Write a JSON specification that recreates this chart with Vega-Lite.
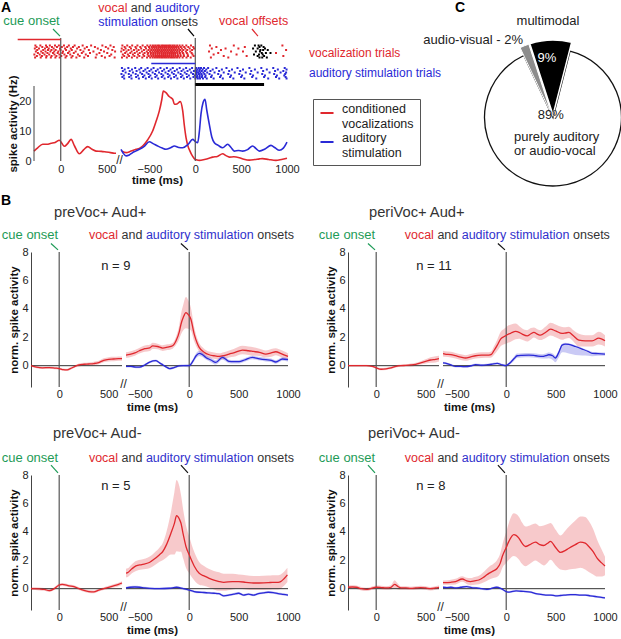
{
"$schema": "https://vega.github.io/schema/vega-lite/v6.json",
"background": "white",
"padding": {"left": 1, "top": 1, "right": 0, "bottom": 0},
"config": {
 "font": "Liberation Sans",
 "view": {"stroke": null},
 "axis": {"grid": false, "ticks": false, "tickSize": 0, "labelFontSize": 11, "labelColor": "#222", "titleFontSize": 11.5, "titleFontWeight": "bold", "titleColor": "#111", "domainColor": "#444", "labelOverlap": false, "labelSeparation": 0},
 "axisX": {"domain": false, "labelFlush": false, "labelPadding": 1, "titlePadding": 3},
 "axisY": {"domain": true, "labelPadding": 3, "titlePadding": 2.5, "labelOverlap": false}
},
"datasets": {
 "ps": [
  {"g":"L","s":"conditioned vocalizations","t":[-290,-250,-196,-150,-105,-60,-15,10,39,75,112,150,202,250,293,340,383,440,492,540,582,600],"m":[3.3,4.4,5.6,5.6,5.9,6.2,6.9,6.0,4.9,5.8,7.2,5.0,2.4,3.8,4.8,3.9,3.3,3.2,3.0,2.8,2.6,2.6]},
  {"g":"R","s":"conditioned vocalizations","t":[-800,-755,-700,-646,-610,-574,-520,-465,-430,-392,-365,-349,-320,-285,-246,-228,-200,-164,-137,-120,-101,-80,-58,-30,-11,20,44,100,150,189,240,298,335,371,420,480,530,589,650,700,734,800,879,940,1000],"m":[3.3,2.8,3.3,3.9,4.2,5.0,7.0,10,13,16.7,20.5,23.3,22.8,21.5,20.6,18.9,19.0,19.8,16.7,12,7.8,5.0,3.3,1.6,0.8,0.3,0.2,0.5,0.9,1.3,1.5,2.4,1.8,1.3,1.4,1.1,0.6,0.3,0.5,0.7,0.8,0.5,0.2,0.5,0.9]},
  {"g":"R","s":"auditory stimulation","t":[-810,-785,-755,-720,-683,-650,-610,-560,-501,-460,-410,-360,-320,-270,-228,-180,-137,-80,-28,0,26,45,62,85,106,125,153,180,208,250,298,353,390,425,470,516,570,625,660,698,760,825,870,916,960,1000],"m":[3.9,2.6,1.7,2.0,2.8,3.3,3.9,4.8,6.4,5.8,5.0,4.3,3.9,4.4,5.0,4.5,4.4,5.5,7.2,6.5,6.1,10,15.6,19.5,20.6,17,12.2,8,6.1,5.2,4.4,5.6,4.5,3.3,3.5,3.3,3.8,5.0,4.2,3.3,4.0,5.2,4.4,3.6,4.3,6.3]}
 ],
 "ra": [
  {"g":"L","k":"v","r":5,"t":[-275,-221,-160,-118,-62,-20,35,88,151,238,330,452,540]},
  {"g":"L","k":"v","r":6,"t":[-262,-200,-149,-95,-41,12,70,133,197,284,371,489,575]},
  {"g":"L","k":"v","r":7,"t":[-281,-236,-171,-130,-77,-8,47,109,178,260,402,515]},
  {"g":"L","k":"v","r":8,"t":[-255,-190,-138,-101,-55,-3,58,120,214,305,436,560]},
  {"g":"L","k":"v","r":9,"t":[-270,-212,-165,-112,-70,-26,25,94,162,246,355,470,590]},
  {"g":"L","k":"v","r":10,"t":[-248,-195,-144,-84,-33,18,79,142,229,318,420,505]},
  {"g":"L","k":"v","r":11,"t":[-286,-228,-176,-125,-68,-14,40,103,187,272,390,548]},
  {"g":"L","k":"v","r":12,"t":[-259,-204,-153,-99,-47,6,63,128,205,296,445,530]},
  {"g":"L","k":"v","r":13,"t":[-278,-217,-158,-107,-58,-11,52,116,170,255,380,480,585]},
  {"g":"R","k":"v","r":5,"t":[-795,-742,-688,-631,-574,-523,-489,-462,-438,-415,-396,-371,-352,-330,-309,-287,-268,-245,-224,-198,-171,-140,-98,-47,160,420,950]},
  {"g":"R","k":"v","r":6,"t":[-770,-715,-652,-600,-546,-505,-474,-451,-427,-403,-384,-362,-340,-319,-296,-277,-255,-233,-210,-186,-158,-121,-76,-22,230,540]},
  {"g":"R","k":"v","r":7,"t":[-802,-760,-701,-644,-590,-537,-497,-469,-444,-421,-401,-378,-357,-335,-314,-292,-271,-250,-229,-205,-179,-147,-109,-61,-14,180,330,470]},
  {"g":"R","k":"v","r":8,"t":[-781,-728,-669,-618,-560,-511,-480,-455,-432,-409,-389,-366,-344,-324,-302,-281,-260,-239,-217,-193,-165,-131,-88,-35,280,990]},
  {"g":"R","k":"v","r":9,"t":[-808,-750,-694,-637,-582,-529,-493,-466,-441,-418,-398,-375,-355,-333,-311,-290,-266,-247,-226,-201,-175,-144,-103,-55,150,390,520]},
  {"g":"R","k":"v","r":10,"t":[-765,-709,-660,-606,-553,-515,-484,-458,-435,-412,-392,-369,-347,-327,-305,-284,-263,-242,-220,-196,-168,-135,-92,-40,250,880]},
  {"g":"R","k":"v","r":11,"t":[-790,-735,-680,-625,-568,-519,-486,-460,-436,-413,-391,-368,-349,-328,-306,-283,-262,-241,-219,-191,-162,-127,-83,-30,200,450]},
  {"g":"R","k":"v","r":12,"t":[-775,-722,-664,-610,-557,-508,-477,-453,-429,-406,-386,-364,-342,-321,-299,-279,-257,-236,-213,-189,-160,-124,-80,-18,310,560,960]},
  {"g":"R","k":"v","r":13,"t":[-799,-746,-691,-634,-578,-526,-491,-464,-440,-417,-395,-373,-353,-331,-310,-288,-265,-244,-223,-199,-173,-138,-96,-50,170,360]},
  {"g":"R","k":"o","r":5,"t":[650,690,720]},
  {"g":"R","k":"o","r":6,"t":[700,745]},
  {"g":"R","k":"o","r":7,"t":[630,680,760]},
  {"g":"R","k":"o","r":8,"t":[710,740,790]},
  {"g":"R","k":"o","r":9,"t":[660,705]},
  {"g":"R","k":"o","r":10,"t":[725,770,820]},
  {"g":"R","k":"o","r":11,"t":[640,695,735]},
  {"g":"R","k":"o","r":12,"t":[680,750]},
  {"g":"R","k":"o","r":13,"t":[700,730,780]},
  {"g":"R","k":"a","r":20,"t":[-800,-730,-655,-590,-520,-455,-380,-310,-245,-170,-100,-35,10,38,62,95,140,230,340,460,590,720,850,975]},
  {"g":"R","k":"a","r":21,"t":[-770,-690,-610,-545,-480,-410,-340,-270,-200,-130,-60,5,25,50,80,120,190,290,400,520,650,780,900,995]},
  {"g":"R","k":"a","r":22,"t":[-790,-715,-640,-565,-500,-430,-360,-290,-225,-150,-85,-15,15,44,70,105,165,260,370,490,610,740,870,960]},
  {"g":"R","k":"a","r":23,"t":[-760,-680,-600,-530,-465,-395,-325,-255,-185,-115,-45,8,30,55,88,130,210,310,430,550,680,810,930,990]},
  {"g":"R","k":"a","r":24,"t":[-805,-725,-650,-580,-510,-440,-370,-300,-235,-160,-95,-25,12,40,66,100,155,250,360,480,600,730,860,980]},
  {"g":"R","k":"a","r":25,"t":[-780,-700,-625,-555,-490,-420,-350,-280,-210,-140,-70,-5,20,48,75,112,180,280,390,510,630,760,890,970]},
  {"g":"R","k":"a","r":26,"t":[-795,-720,-645,-570,-505,-435,-365,-295,-230,-155,-90,-20,18,46,72,108,172,270,380,500,620,750,880,985]},
  {"g":"R","k":"a","r":27,"t":[-775,-695,-615,-540,-475,-405,-335,-265,-195,-125,-55,2,28,52,84,125,200,300,415,535,665,795,915,995]}
 ],
 "pie": [
  {"cat":"audio-visual","v":2,"o":1},
  {"cat":"multimodal","v":9,"o":2},
  {"cat":"purely auditory or audio-vocal","v":89,"o":3}
 ],
 "b": [
  {"p":1,"g":"L","s":"v","t":[-285,-230,-170,-100,-40,0,40,80,120,160,200,250,300,350,400,450,500,550,600,635],"m":[0,-0.1,-0.15,-0.13,-0.17,-0.2,-0.28,-0.3,-0.18,-0.05,0.05,0.1,0.12,0.15,0.22,0.38,0.45,0.47,0.5,0.5],"u":[0.08,0.08,0.08,0.08,0.08,0.08,0.08,0.08,0.08,0.08,0.1,0.1,0.1,0.12,0.12,0.14,0.15,0.15,0.15,0.15]},
  {"p":1,"g":"R","s":"v","t":[-640,-600,-550,-505,-450,-400,-370,-320,-269,-220,-168,-130,-100,-84,-60,-33,-10,17,51,80,101,150,202,250,303,350,404,450,539,600,650,711,775,830,876,930,1000],"m":[0.75,0.8,0.9,1.05,1.2,1.25,1.4,1.35,1.24,1.3,1.4,1.8,2.4,2.9,3.4,3.74,3.6,3.27,2.2,1.6,1.29,0.95,0.77,0.7,0.65,0.7,0.82,0.9,1.1,1.05,1.0,0.94,0.82,0.9,0.98,0.85,0.65],"u":[0.2,0.2,0.2,0.2,0.22,0.22,0.22,0.2,0.2,0.2,0.2,0.3,0.5,0.7,0.9,1.1,1.0,0.8,0.5,0.35,0.3,0.25,0.22,0.22,0.22,0.25,0.25,0.28,0.3,0.3,0.3,0.25,0.25,0.28,0.25,0.25,0.22]},
  {"p":1,"g":"R","s":"a","t":[-640,-590,-540,-505,-450,-400,-340,-300,-269,-230,-200,-160,-100,-60,0,40,70,101,130,168,220,270,336,370,404,450,505,560,640,700,775,830,876,944,1000],"m":[-0.05,-0.05,-0.1,-0.1,0.05,0.25,0.35,0.2,0.07,-0.1,-0.2,-0.15,-0.02,0,0,0.35,0.7,0.87,0.8,0.58,0.4,0.23,0.58,0.45,0.3,0.28,0.28,0.4,0.58,0.5,0.42,0.38,0.26,0.47,0.42],"u":[0.08,0.08,0.08,0.08,0.08,0.08,0.08,0.08,0.08,0.08,0.08,0.08,0.08,0.08,0.12,0.15,0.18,0.18,0.18,0.15,0.15,0.15,0.15,0.15,0.12,0.12,0.12,0.12,0.12,0.12,0.12,0.12,0.12,0.12,0.12]},
  {"p":2,"g":"L","s":"v","t":[-285,-200,-100,-40,0,50,100,150,200,250,300,350,400,450,500,550,600,635],"m":[0,0,0,-0.05,-0.15,-0.25,-0.22,-0.15,-0.05,0,0.02,0.05,0.1,0.2,0.3,0.4,0.45,0.5],"u":[0.06,0.06,0.06,0.06,0.08,0.08,0.08,0.08,0.08,0.08,0.08,0.1,0.1,0.12,0.15,0.2,0.22,0.2]},
  {"p":2,"g":"R","s":"v","t":[-640,-620,-560,-513,-460,-412,-360,-311,-250,-176,-150,-125,-90,-57,-20,10,50,94,130,162,212,250,280,320,347,400,448,500,566,600,634,680,735,800,870,937,1000],"m":[0.85,0.82,0.78,0.7,0.6,0.54,0.62,0.7,0.74,0.75,0.8,1.05,1.45,1.87,2.05,2.18,2.3,2.41,2.35,2.22,2.1,2.25,2.34,2.2,2.15,2.35,2.57,2.45,2.27,2.3,2.34,2.1,1.8,1.75,1.75,1.94,1.75],"u":[0.2,0.2,0.2,0.2,0.2,0.2,0.2,0.2,0.2,0.2,0.22,0.3,0.4,0.5,0.55,0.6,0.6,0.55,0.45,0.4,0.4,0.4,0.35,0.35,0.35,0.4,0.45,0.45,0.45,0.4,0.4,0.4,0.45,0.4,0.4,0.45,0.4]},
  {"p":2,"g":"R","s":"a","t":[-640,-600,-560,-513,-460,-412,-360,-311,-250,-200,-150,-91,-40,-6,44,80,111,160,229,300,364,400,431,470,498,530,566,600,634,700,769,830,870,930,1000],"m":[0.2,0.15,0.05,-0.05,-0.05,-0.07,-0.02,0.07,0.03,0.05,0.1,0.16,0.05,0,0.23,0.5,0.7,0.73,0.75,0.7,0.65,0.7,0.77,0.7,0.54,0.9,1.45,1.52,1.5,1.35,1.17,1.0,0.87,0.85,0.82],"u":[0.08,0.08,0.08,0.08,0.08,0.08,0.08,0.08,0.08,0.08,0.08,0.08,0.08,0.08,0.12,0.15,0.15,0.15,0.15,0.15,0.15,0.15,0.15,0.15,0.15,0.15,0.1,0.1,0.08,0.08,0.08,0.08,0.1,0.1,0.1],"l":[-0.08,-0.08,-0.08,-0.08,-0.08,-0.08,-0.08,-0.08,-0.08,-0.08,-0.08,-0.08,-0.08,-0.08,-0.12,-0.15,-0.15,-0.15,-0.15,-0.15,-0.15,-0.2,-0.25,-0.3,-0.3,-0.35,-0.5,-0.6,-0.65,-0.6,-0.45,-0.3,-0.2,-0.15,-0.12]},
  {"p":3,"g":"L","s":"v","t":[-285,-200,-150,-100,-50,0,30,100,150,200,250,300,350,400,450,500,550,600,635],"m":[0,-0.02,-0.05,-0.14,0,0.26,0.3,0.2,0.15,0,-0.12,-0.2,-0.22,-0.1,0,0.1,0.2,0.3,0.4],"u":[0.1,0.1,0.1,0.1,0.1,0.1,0.1,0.1,0.1,0.1,0.1,0.1,0.1,0.1,0.1,0.1,0.12,0.12,0.12]},
  {"p":3,"g":"R","s":"v","t":[-640,-623,-580,-539,-480,-404,-350,-300,-269,-230,-185,-150,-128,-100,-84,-60,-33,0,50,101,150,202,250,303,350,438,500,573,650,707,800,842,900,926,960,994],"m":[1.1,1.13,1.4,1.6,1.7,1.84,2.1,2.4,2.6,3.1,3.9,4.6,5.14,4.9,4.62,3.8,2.97,2.38,1.6,1.08,0.9,0.73,0.6,0.5,0.45,0.5,0.5,0.45,0.4,0.4,0.42,0.45,0.45,0.5,0.7,0.97],"u":[0.3,0.3,0.32,0.35,0.35,0.4,0.45,0.5,0.6,0.9,1.5,2.2,2.5,2.3,2.0,1.7,1.5,1.3,1.0,0.8,0.7,0.65,0.65,0.65,0.6,0.55,0.5,0.5,0.5,0.5,0.5,0.5,0.5,0.5,0.5,0.5]},
  {"p":3,"g":"R","s":"a","t":[-640,-600,-550,-500,-450,-400,-300,-200,-128,-60,0,50,100,150,200,250,300,350,400,450,500,550,600,650,700,750,800,850,900,950,1000],"m":[0.05,0.1,0.12,0.1,0.05,0.02,0,0.03,0.1,0,-0.1,-0.2,-0.25,-0.27,-0.3,-0.32,-0.35,-0.5,-0.45,-0.38,-0.32,-0.45,-0.38,-0.45,-0.35,-0.3,-0.25,-0.28,-0.35,-0.4,-0.45],"u":[0.08,0.08,0.08,0.08,0.08,0.08,0.08,0.08,0.08,0.08,0.08,0.08,0.08,0.08,0.08,0.08,0.08,0.08,0.08,0.08,0.08,0.08,0.08,0.08,0.08,0.08,0.08,0.08,0.08,0.08,0.08]},
  {"p":4,"g":"L","s":"v","t":[-285,-240,-200,-150,-100,-50,0,50,100,150,186,220,250,300,350,400,450,500,550,600,635],"m":[0.1,0.12,0.1,0,-0.05,0.02,0.1,0.08,0.05,0.1,0.3,0.15,0.05,0.05,0.02,0.05,0.08,0.05,0,0.05,0.1],"u":[0.12,0.12,0.12,0.12,0.12,0.12,0.12,0.12,0.12,0.15,0.3,0.2,0.12,0.12,0.12,0.12,0.12,0.12,0.12,0.12,0.12]},
  {"p":4,"g":"R","s":"v","t":[-640,-620,-560,-513,-445,-400,-361,-320,-277,-220,-176,-130,-91,-60,-40,0,27,77,100,128,160,195,240,296,340,380,420,448,500,549,600,634,700,751,800,836,880,920,960,1000],"m":[0.42,0.42,0.45,0.5,0.68,0.55,0.5,0.55,0.61,0.85,1.08,1.25,1.44,1.8,2.26,2.9,3.33,3.8,3.75,3.56,3.2,2.97,3.1,3.28,3.1,3.04,3.2,3.33,2.9,2.55,2.7,2.85,3.1,3.28,3.2,2.97,2.6,2.15,1.85,1.6],"u":[0.15,0.15,0.18,0.2,0.2,0.22,0.25,0.28,0.3,0.38,0.45,0.5,0.6,0.7,0.8,1.1,1.3,1.5,1.5,1.5,1.45,1.4,1.35,1.3,1.3,1.4,1.35,1.3,1.25,1.2,1.4,1.5,1.7,1.8,1.85,1.8,1.6,1.3,1.0,0.65]},
  {"p":4,"g":"R","s":"a","t":[-640,-600,-560,-513,-460,-400,-350,-300,-250,-200,-150,-100,-50,0,30,100,150,200,250,300,350,400,450,500,550,600,650,700,750,800,850,900,950,1000],"m":[0.1,0.08,0.1,0.05,0.1,0.15,0.08,0.05,0,-0.05,0.02,0.1,0,-0.2,-0.24,-0.15,-0.18,-0.2,-0.25,-0.35,-0.4,-0.45,-0.45,-0.5,-0.48,-0.45,-0.42,-0.42,-0.45,-0.45,-0.5,-0.55,-0.6,-0.65],"u":[0.07,0.07,0.07,0.07,0.07,0.07,0.07,0.07,0.07,0.07,0.07,0.07,0.07,0.07,0.07,0.07,0.07,0.07,0.07,0.07,0.07,0.07,0.07,0.07,0.07,0.07,0.07,0.07,0.07,0.07,0.07,0.07,0.07,0.07]}
 ]
},
"columns": 5,
"spacing": {"row": 88, "column": 4},
"align": "each",
"bounds": "flush",
"concat": [
 {
  "width": 91, "height": 123,
  "resolve": {"scale": {"y": "independent"}},
  "layer": [
   {"layer": [
    {"data": {"name": "ps"}, "transform": [{"filter": "datum.g == 'L'"}, {"flatten": ["t", "m"]}],
     "mark": {"type": "line", "color": "#e0282e", "strokeWidth": 1.6, "interpolate": "monotone"},
     "encoding": {
      "x": {"field": "t", "type": "quantitative", "scale": {"domain": [-322.6, 665], "nice": false, "zero": false}, "axis": {"values": [0, 500], "format": "d", "title": null, "labelPadding": 2.5, "labelOverlap": false}},
      "y": {"field": "m", "type": "quantitative", "scale": {"domain": [0, 41], "nice": false, "zero": false}, "axis": {"values": [0, 10, 20], "title": "spike activity (Hz)", "domain": false, "labelPadding": 0, "labelOverlap": false, "titleX": -18, "titleY": 85.5, "titleBaseline": "middle"}}}},
    {"data": {"values": [{}]}, "mark": {"type": "rule", "color": "#444", "strokeWidth": 1}, "encoding": {"x": {"datum": -290}, "y": {"datum": 0}, "y2": {"datum": 25}}},
    {"data": {"values": [{}]}, "mark": {"type": "text", "text": "//", "fontSize": 12, "color": "#222", "align": "center", "baseline": "middle", "dx": 2.5, "dy": -1}, "encoding": {"x": {"datum": 611}, "y": {"datum": 0}}}
   ]},
   {"layer": [
    {"data": {"name": "ra"}, "transform": [{"filter": "datum.g == 'L'"}, {"flatten": ["t"]}],
     "mark": {"type": "square", "size": 4, "color": "#e0282e", "opacity": 1},
     "encoding": {"x": {"field": "t", "type": "quantitative"}, "y": {"field": "r", "type": "quantitative", "scale": {"domain": [0, 82], "reverse": true, "nice": false, "zero": false}, "axis": null}}},
    {"data": {"values": [{}]}, "mark": {"type": "rule", "color": "#555", "strokeWidth": 1.2}, "encoding": {"x": {"datum": 0}}},
    {"data": {"values": [{}]}, "mark": {"type": "rule", "color": "#e0282e", "strokeWidth": 1.5}, "encoding": {"x": {"datum": -467}, "x2": {"datum": 0}, "y": {"datum": 1, "axis": null}}},
    {"data": {"values": [{}]}, "mark": {"type": "rule", "color": "#1e9b57", "strokeWidth": 1.2}, "encoding": {"x": {"datum": -84}, "x2": {"datum": -8}, "y": {"datum": -6, "axis": null}, "y2": {"datum": -1.3}}},
    {"data": {"values": [{}]}, "mark": {"type": "text", "text": "cue onset", "align": "right", "baseline": "middle", "dx": -1, "dy": -17, "fontSize": 13, "color": "#1e9b57"}, "encoding": {"x": {"datum": 0}, "y": {"datum": 0, "axis": null}}},
    {"data": {"values": [{}]}, "mark": {"type": "text", "text": "A", "align": "left", "baseline": "middle", "dx": -30, "dy": -30, "fontSize": 14, "fontWeight": "bold", "color": "#000"}, "encoding": {"x": {"datum": -322.6}, "y": {"datum": 0, "axis": null}}}
   ]}
  ]
 },
 {
  "width": 161, "height": 123,
  "resolve": {"scale": {"y": "independent"}},
  "layer": [
   {"layer": [
    {"data": {"name": "ps"}, "transform": [{"filter": "datum.g == 'R'"}, {"flatten": ["t", "m"]}],
     "mark": {"type": "line", "strokeWidth": 1.6, "interpolate": "monotone"},
     "encoding": {
      "x": {"field": "t", "type": "quantitative", "scale": {"domain": [-755.5, 1000], "nice": false, "zero": false}, "axis": {"values": [-500, 0, 500, 1000], "format": "d", "title": "time (ms)", "labelPadding": 2.5, "labelOverlap": false, "titleX": 31, "titleY": 19, "titleBaseline": "middle"}},
      "y": {"field": "m", "type": "quantitative", "scale": {"domain": [0, 41], "nice": false, "zero": false}, "axis": null},
      "color": {"field": "s", "type": "nominal", "scale": {"domain": ["conditioned vocalizations", "auditory stimulation"], "range": ["#e0282e", "#2a2ad6"]},
       "legend": {"orient": "none", "legendX": 282, "legendY": 61, "title": null, "symbolType": "stroke", "symbolSize": 170, "symbolStrokeWidth": 2, "labelFontSize": 12.5, "labelColor": "#222", "labelExpr": "split(datum.label, ' ')", "labelBaseline": "alphabetic", "labelOffset": 7, "labelLimit": 0, "strokeColor": "#555", "fillColor": "#fff", "padding": 6, "rowPadding": 2}}}}
   ]},
   {"layer": [
    {"data": {"name": "ra"}, "transform": [{"filter": "datum.g == 'R' && datum.k == 'v'"}, {"flatten": ["t"]}],
     "mark": {"type": "square", "size": 4, "color": "#e0282e", "opacity": 1},
     "encoding": {"x": {"field": "t", "type": "quantitative"}, "y": {"field": "r", "type": "quantitative", "scale": {"domain": [0, 82], "reverse": true, "nice": false, "zero": false}, "axis": null}}},
    {"data": {"name": "ra"}, "transform": [{"filter": "datum.g == 'R' && datum.k == 'o'"}, {"flatten": ["t"]}],
     "mark": {"type": "square", "size": 4, "color": "#000", "opacity": 1},
     "encoding": {"x": {"field": "t", "type": "quantitative"}, "y": {"field": "r", "type": "quantitative", "axis": null}}},
    {"data": {"name": "ra"}, "transform": [{"filter": "datum.g == 'R' && datum.k == 'a'"}, {"flatten": ["t"]}],
     "mark": {"type": "square", "size": 4, "color": "#2a2ad6", "opacity": 1},
     "encoding": {"x": {"field": "t", "type": "quantitative"}, "y": {"field": "r", "type": "quantitative", "axis": null}}},
    {"data": {"values": [{}]}, "mark": {"type": "rule", "color": "#555", "strokeWidth": 1.2}, "encoding": {"x": {"datum": 0}}},
    {"data": {"values": [{}]}, "mark": {"type": "rule", "color": "#2a2ad6", "strokeWidth": 1.5}, "encoding": {"x": {"datum": -480}, "x2": {"datum": 0}, "y": {"datum": 17, "axis": null}}},
    {"data": {"values": [{}]}, "mark": {"type": "rule", "color": "#000", "strokeWidth": 3}, "encoding": {"x": {"datum": 0}, "x2": {"datum": 750}, "y": {"datum": 31, "axis": null}}},
    {"data": {"values": [{}]}, "mark": {"type": "rule", "color": "#000", "strokeWidth": 1.2}, "encoding": {"x": {"datum": -80}, "x2": {"datum": -14}, "y": {"datum": -6, "axis": null}, "y2": {"datum": -1.3}}},
    {"data": {"values": [{}]}, "mark": {"type": "rule", "color": "#e0282e", "strokeWidth": 1.2}, "encoding": {"x": {"datum": 618}, "x2": {"datum": 683}, "y": {"datum": -6, "axis": null}, "y2": {"datum": -1.3}}},
    {"data": {"values": [{}]}, "mark": {"type": "text", "text": "vocal", "align": "left", "baseline": "middle", "dx": -97, "dy": -30.5, "fontSize": 12.5, "color": "#e0282e"}, "encoding": {"x": {"datum": 0}, "y": {"datum": 0, "axis": null}}},
    {"data": {"values": [{}]}, "mark": {"type": "text", "text": "and", "align": "left", "baseline": "middle", "dx": -64.6, "dy": -30.5, "fontSize": 12.5, "color": "#333"}, "encoding": {"x": {"datum": 0}, "y": {"datum": 0, "axis": null}}},
    {"data": {"values": [{}]}, "mark": {"type": "text", "text": "auditory", "align": "left", "baseline": "middle", "dx": -40.3, "dy": -30.5, "fontSize": 12.5, "color": "#2a2ad6"}, "encoding": {"x": {"datum": 0}, "y": {"datum": 0, "axis": null}}},
    {"data": {"values": [{}]}, "mark": {"type": "text", "text": "stimulation", "align": "left", "baseline": "middle", "dx": -97, "dy": -16, "fontSize": 12.5, "color": "#2a2ad6"}, "encoding": {"x": {"datum": 0}, "y": {"datum": 0, "axis": null}}},
    {"data": {"values": [{}]}, "mark": {"type": "text", "text": "onsets", "align": "left", "baseline": "middle", "dx": -34.1, "dy": -16, "fontSize": 12.5, "color": "#333"}, "encoding": {"x": {"datum": 0}, "y": {"datum": 0, "axis": null}}},
    {"data": {"values": [{}]}, "mark": {"type": "text", "text": "vocal offsets", "align": "left", "baseline": "middle", "dx": 23.7, "dy": -17, "fontSize": 12.5, "color": "#e0282e"}, "encoding": {"x": {"datum": 0}, "y": {"datum": 0, "axis": null}}},
    {"data": {"values": [{}]}, "mark": {"type": "text", "text": "vocalization trials", "align": "left", "baseline": "middle", "dx": 22, "fontSize": 12, "color": "#e0282e"}, "encoding": {"x": {"datum": 1000}, "y": {"datum": 10, "axis": null}}},
    {"data": {"values": [{}]}, "mark": {"type": "text", "text": "auditory stimulation trials", "align": "left", "baseline": "middle", "dx": 22, "fontSize": 12, "color": "#2a2ad6"}, "encoding": {"x": {"datum": 1000}, "y": {"datum": 23.3, "axis": null}}}
   ]}
  ]
 },
 {"width": 52, "height": 1, "data": {"values": [{}]}, "mark": {"type": "text", "text": ""}, "encoding": {}},
 {"width": 91, "height": 1, "data": {"values": [{}]}, "mark": {"type": "text", "text": ""}, "encoding": {}},
 {
  "width": 178.5, "height": 126,
  "layer": [
   {"data": {"name": "pie"}, "transform": [{"stack": "v", "groupby": [], "sort": [{"field": "o", "order": "ascending"}], "as": ["a0", "a1"]}, {"filter": "datum.o == 3"}],
    "mark": {"type": "arc", "outerRadius": 68.5, "fill": "#fff", "stroke": "#111", "strokeWidth": 1.3, "xOffset": 20.75, "yOffset": 16.5},
    "encoding": {"theta": {"field": "a0", "type": "quantitative", "scale": {"domain": [0, 100], "range": [-0.44, 5.8432]}}, "theta2": {"field": "a1"}}},
   {"data": {"name": "pie"}, "transform": [{"stack": "v", "groupby": [], "sort": [{"field": "o", "order": "ascending"}], "as": ["a0", "a1"]}, {"filter": "datum.o == 2"}],
    "mark": {"type": "arc", "outerRadius": 75, "fill": "#000", "stroke": "#fff", "strokeWidth": 1.5, "xOffset": 20.75, "yOffset": 14},
    "encoding": {"theta": {"field": "a0", "type": "quantitative", "scale": {"domain": [0, 100], "range": [-0.44, 5.8432]}}, "theta2": {"field": "a1"}}},
   {"data": {"name": "pie"}, "transform": [{"stack": "v", "groupby": [], "sort": [{"field": "o", "order": "ascending"}], "as": ["a0", "a1"]}, {"filter": "datum.o == 1"}],
    "mark": {"type": "arc", "outerRadius": 75, "fill": "#8c8c8c", "stroke": "#fff", "strokeWidth": 1, "xOffset": 19.75, "yOffset": 14.5},
    "encoding": {"theta": {"field": "a0", "type": "quantitative", "scale": {"domain": [0, 100], "range": [-0.44, 5.8432]}}, "theta2": {"field": "a1"}}},
   {"data": {"values": [{}]}, "mark": {"type": "text", "text": "9%", "radius": 59.8, "theta": -0.1005, "xOffset": 20.75, "yOffset": 16.5, "fontSize": 13, "color": "#fff", "align": "center", "baseline": "middle"}, "encoding": {}},
   {"data": {"values": [{}]}, "mark": {"type": "text", "text": "89%", "radius": 3.4, "theta": -0.74, "xOffset": 20.75, "yOffset": 16.5, "fontSize": 13, "color": "#222", "align": "center", "baseline": "middle"}, "encoding": {}},
   {"data": {"values": [{}]}, "mark": {"type": "text", "text": "purely auditory", "radius": 43.6, "theta": -2.034, "xOffset": 20.75, "yOffset": 16.5, "fontSize": 13, "color": "#222", "align": "left", "baseline": "middle"}, "encoding": {}},
   {"data": {"values": [{}]}, "mark": {"type": "text", "text": "or audio-vocal", "radius": 51.4, "theta": -2.281, "xOffset": 20.75, "yOffset": 16.5, "fontSize": 13, "color": "#222", "align": "left", "baseline": "middle"}, "encoding": {}},
   {"data": {"values": [{}]}, "mark": {"type": "text", "text": "multimodal", "radius": 96.6, "theta": -0.052, "xOffset": 20.75, "yOffset": 16.5, "fontSize": 13, "color": "#222", "align": "center", "baseline": "middle"}, "encoding": {}},
   {"data": {"values": [{}]}, "mark": {"type": "text", "text": "audio-visual - 2%", "radius": 83.1, "theta": -0.369, "xOffset": 20.75, "yOffset": 16.5, "fontSize": 13, "color": "#222", "align": "right", "baseline": "middle"}, "encoding": {}},
   {"data": {"values": [{}]}, "mark": {"type": "text", "text": "C", "radius": 146.6, "theta": -0.732, "xOffset": 20.75, "yOffset": 16.5, "fontSize": 14, "fontWeight": "bold", "color": "#000", "align": "left", "baseline": "middle"}, "encoding": {}}
  ]
 },
 {
  "width": 91, "height": 135,
  "layer": [
   {"data": {"name": "b"}, "transform": [{"filter": "datum.p == 1 && datum.g == 'L'"}, {"flatten": ["t", "m", "u"]}],
    "mark": {"type": "errorband", "color": "#e0282e", "band": {"opacity": 0.25}, "interpolate": "monotone"},
    "encoding": {
     "x": {"field": "t", "type": "quantitative", "title": null, "scale": {"domain": [-285, 635], "nice": false, "zero": false}},
     "y": {"field": "m", "type": "quantitative", "title": "norm. spike activity", "scale": {"domain": [-1.5, 8], "nice": false, "zero": false}},
     "yError": {"field": "u"}}},
   {"data": {"values": [{}]}, "mark": {"type": "rule", "color": "#333", "strokeWidth": 1}, "encoding": {"y": {"datum": 0}}},
   {"data": {"values": [{}]}, "mark": {"type": "rule", "color": "#555", "strokeWidth": 1.2}, "encoding": {"x": {"datum": 0}}},
   {"data": {"name": "b"}, "transform": [{"filter": "datum.p == 1 && datum.g == 'L'"}, {"flatten": ["t", "m"]}],
    "mark": {"type": "line", "color": "#e0282e", "strokeWidth": 1.3, "interpolate": "monotone"},
    "encoding": {"x": {"field": "t", "type": "quantitative", "axis": {"values": [0, 500], "format": "d", "labelOverlap": false}}, "y": {"field": "m", "type": "quantitative", "axis": {"tickCount": 5, "labelOverlap": false}}}},
   {"data": {"values": [{}]}, "mark": {"type": "rule", "color": "#1e9b57", "strokeWidth": 1.2}, "encoding": {"x": {"datum": -83}, "x2": {"datum": -12}, "y": {"datum": 8.6}, "y2": {"datum": 8.15}}},
   {"data": {"values": [{}]}, "mark": {"type": "text", "text": "cue onset", "align": "right", "baseline": "middle", "dx": -1, "dy": -17, "fontSize": 13, "color": "#1e9b57"}, "encoding": {"x": {"datum": 0}, "y": {"datum": 8}}},
   {"data": {"values": [{}]}, "mark": {"type": "text", "text": "n = 9", "align": "left", "baseline": "middle", "dx": 42, "dy": 14, "fontSize": 13, "color": "#222"}, "encoding": {"x": {"datum": 0}, "y": {"datum": 8}}},
   {"data": {"values": [{}]}, "mark": {"type": "text", "text": "preVoc+ Aud+", "align": "left", "baseline": "middle", "dx": 23, "dy": -39, "fontSize": 14.7, "color": "#333"}, "encoding": {"x": {"datum": -285}, "y": {"datum": 8}}},
   {"data": {"values": [{}]}, "mark": {"type": "text", "text": "B", "align": "left", "baseline": "middle", "dx": -30, "dy": -51, "fontSize": 14, "fontWeight": "bold", "color": "#000"}, "encoding": {"x": {"datum": -285}, "y": {"datum": 8}}},
   {"data": {"values": [{}]}, "mark": {"type": "text", "text": "//", "align": "center", "baseline": "middle", "dx": 1.5, "dy": -3.5, "fontSize": 12, "color": "#222"}, "encoding": {"x": {"datum": 635}, "y": {"datum": -1.5}}}
  ]
 },
 {
  "width": 162, "height": 135,
  "layer": [
   {"data": {"name": "b"}, "transform": [{"filter": "datum.p == 1 && datum.g == 'R' && datum.s == 'v'"}, {"flatten": ["t", "m", "u"]}],
    "mark": {"type": "errorband", "color": "#e0282e", "band": {"opacity": 0.25}, "interpolate": "monotone"},
    "encoding": {
     "x": {"field": "t", "type": "quantitative", "scale": {"domain": [-640, 1000], "nice": false, "zero": false}, "axis": {"values": [-500, 0, 500, 1000], "format": "d", "labelOverlap": false, "title": "time (ms)", "titleX": 26, "titleY": 20.6, "titleBaseline": "middle"}},
     "y": {"field": "m", "type": "quantitative", "scale": {"domain": [-1.5, 8], "nice": false, "zero": false}, "axis": null},
     "yError": {"field": "u"}}},
   {"data": {"name": "b"}, "transform": [{"filter": "datum.p == 1 && datum.g == 'R' && datum.s == 'a'"}, {"flatten": ["t", "m", "u"]}],
    "mark": {"type": "errorband", "color": "#2a2ad6", "band": {"opacity": 0.25}, "interpolate": "monotone"},
    "encoding": {"x": {"field": "t", "type": "quantitative"}, "y": {"field": "m", "type": "quantitative", "axis": null}, "yError": {"field": "u"}}},
   {"data": {"values": [{}]}, "mark": {"type": "rule", "color": "#333", "strokeWidth": 1}, "encoding": {"y": {"datum": 0, "axis": null}}},
   {"data": {"values": [{}]}, "mark": {"type": "rule", "color": "#555", "strokeWidth": 1.2}, "encoding": {"x": {"datum": 0}}},
   {"data": {"name": "b"}, "transform": [{"filter": "datum.p == 1 && datum.g == 'R' && datum.s == 'v'"}, {"flatten": ["t", "m"]}],
    "mark": {"type": "line", "color": "#e0282e", "strokeWidth": 1.3, "interpolate": "monotone"},
    "encoding": {"x": {"field": "t", "type": "quantitative"}, "y": {"field": "m", "type": "quantitative", "axis": null}}},
   {"data": {"name": "b"}, "transform": [{"filter": "datum.p == 1 && datum.g == 'R' && datum.s == 'a'"}, {"flatten": ["t", "m"]}],
    "mark": {"type": "line", "color": "#2a2ad6", "strokeWidth": 1.3, "interpolate": "monotone"},
    "encoding": {"x": {"field": "t", "type": "quantitative"}, "y": {"field": "m", "type": "quantitative", "axis": null}}},
   {"data": {"values": [{}]}, "mark": {"type": "rule", "color": "#111", "strokeWidth": 1.2}, "encoding": {"x": {"datum": -84}, "x2": {"datum": -13}, "y": {"datum": 8.6, "axis": null}, "y2": {"datum": 8.15}}},
   {"data": {"values": [{}]}, "mark": {"type": "text", "text": "vocal", "align": "left", "baseline": "middle", "dx": -100.3, "dy": -17, "fontSize": 12.5, "color": "#e0282e"}, "encoding": {"x": {"datum": 0}, "y": {"datum": 8, "axis": null}}},
   {"data": {"values": [{}]}, "mark": {"type": "text", "text": "and", "align": "left", "baseline": "middle", "dx": -67.6, "dy": -17, "fontSize": 12.5, "color": "#333"}, "encoding": {"x": {"datum": 0}, "y": {"datum": 8, "axis": null}}},
   {"data": {"values": [{}]}, "mark": {"type": "text", "text": "auditory stimulation", "align": "left", "baseline": "middle", "dx": -43.3, "dy": -17, "fontSize": 12.5, "color": "#3030cc"}, "encoding": {"x": {"datum": 0}, "y": {"datum": 8, "axis": null}}},
   {"data": {"values": [{}]}, "mark": {"type": "text", "text": "onsets", "align": "left", "baseline": "middle", "dx": 68, "dy": -17, "fontSize": 12.5, "color": "#333"}, "encoding": {"x": {"datum": 0}, "y": {"datum": 8, "axis": null}}}
  ]
 },
 {"width": 52, "height": 1, "data": {"values": [{}]}, "mark": {"type": "text", "text": ""}, "encoding": {}},
 {
  "width": 91, "height": 135,
  "layer": [
   {"data": {"name": "b"}, "transform": [{"filter": "datum.p == 2 && datum.g == 'L'"}, {"flatten": ["t", "m", "u"]}],
    "mark": {"type": "errorband", "color": "#e0282e", "band": {"opacity": 0.25}, "interpolate": "monotone"},
    "encoding": {
     "x": {"field": "t", "type": "quantitative", "title": null, "scale": {"domain": [-285, 635], "nice": false, "zero": false}},
     "y": {"field": "m", "type": "quantitative", "title": "norm. spike activity", "scale": {"domain": [-1.5, 8], "nice": false, "zero": false}},
     "yError": {"field": "u"}}},
   {"data": {"values": [{}]}, "mark": {"type": "rule", "color": "#333", "strokeWidth": 1}, "encoding": {"y": {"datum": 0}}},
   {"data": {"values": [{}]}, "mark": {"type": "rule", "color": "#555", "strokeWidth": 1.2}, "encoding": {"x": {"datum": 0}}},
   {"data": {"name": "b"}, "transform": [{"filter": "datum.p == 2 && datum.g == 'L'"}, {"flatten": ["t", "m"]}],
    "mark": {"type": "line", "color": "#e0282e", "strokeWidth": 1.3, "interpolate": "monotone"},
    "encoding": {"x": {"field": "t", "type": "quantitative", "axis": {"values": [0, 500], "format": "d", "labelOverlap": false}}, "y": {"field": "m", "type": "quantitative", "axis": {"tickCount": 5, "labelOverlap": false}}}},
   {"data": {"values": [{}]}, "mark": {"type": "rule", "color": "#1e9b57", "strokeWidth": 1.2}, "encoding": {"x": {"datum": -83}, "x2": {"datum": -12}, "y": {"datum": 8.6}, "y2": {"datum": 8.15}}},
   {"data": {"values": [{}]}, "mark": {"type": "text", "text": "cue onset", "align": "right", "baseline": "middle", "dx": -1, "dy": -17, "fontSize": 13, "color": "#1e9b57"}, "encoding": {"x": {"datum": 0}, "y": {"datum": 8}}},
   {"data": {"values": [{}]}, "mark": {"type": "text", "text": "n = 11", "align": "left", "baseline": "middle", "dx": 40, "dy": 14, "fontSize": 13, "color": "#222"}, "encoding": {"x": {"datum": 0}, "y": {"datum": 8}}},
   {"data": {"values": [{}]}, "mark": {"type": "text", "text": "periVoc+ Aud+", "align": "left", "baseline": "middle", "dx": 21, "dy": -39, "fontSize": 14.7, "color": "#333"}, "encoding": {"x": {"datum": -285}, "y": {"datum": 8}}},
   {"data": {"values": [{}]}, "mark": {"type": "text", "text": "//", "align": "center", "baseline": "middle", "dx": 1.5, "dy": -3.5, "fontSize": 12, "color": "#222"}, "encoding": {"x": {"datum": 635}, "y": {"datum": -1.5}}}
  ]
 },
 {
  "width": 162, "height": 135,
  "layer": [
   {"data": {"name": "b"}, "transform": [{"filter": "datum.p == 2 && datum.g == 'R' && datum.s == 'v'"}, {"flatten": ["t", "m", "u"]}],
    "mark": {"type": "errorband", "color": "#e0282e", "band": {"opacity": 0.25}, "interpolate": "monotone"},
    "encoding": {
     "x": {"field": "t", "type": "quantitative", "scale": {"domain": [-640, 1000], "nice": false, "zero": false}, "axis": {"values": [-500, 0, 500, 1000], "format": "d", "labelOverlap": false, "title": "time (ms)", "titleX": 26, "titleY": 20.6, "titleBaseline": "middle"}},
     "y": {"field": "m", "type": "quantitative", "scale": {"domain": [-1.5, 8], "nice": false, "zero": false}, "axis": null},
     "yError": {"field": "u"}}},
   {"data": {"name": "b"}, "transform": [{"filter": "datum.p == 2 && datum.g == 'R' && datum.s == 'a'"}, {"flatten": ["t", "m", "u", "l"]}],
    "mark": {"type": "errorband", "color": "#2a2ad6", "band": {"opacity": 0.25}, "interpolate": "monotone"},
    "encoding": {"x": {"field": "t", "type": "quantitative"}, "y": {"field": "m", "type": "quantitative", "axis": null}, "yError": {"field": "u"}, "yError2": {"field": "l"}}},
   {"data": {"values": [{}]}, "mark": {"type": "rule", "color": "#333", "strokeWidth": 1}, "encoding": {"y": {"datum": 0, "axis": null}}},
   {"data": {"values": [{}]}, "mark": {"type": "rule", "color": "#555", "strokeWidth": 1.2}, "encoding": {"x": {"datum": 0}}},
   {"data": {"name": "b"}, "transform": [{"filter": "datum.p == 2 && datum.g == 'R' && datum.s == 'v'"}, {"flatten": ["t", "m"]}],
    "mark": {"type": "line", "color": "#e0282e", "strokeWidth": 1.3, "interpolate": "monotone"},
    "encoding": {"x": {"field": "t", "type": "quantitative"}, "y": {"field": "m", "type": "quantitative", "axis": null}}},
   {"data": {"name": "b"}, "transform": [{"filter": "datum.p == 2 && datum.g == 'R' && datum.s == 'a'"}, {"flatten": ["t", "m"]}],
    "mark": {"type": "line", "color": "#2a2ad6", "strokeWidth": 1.3, "interpolate": "monotone"},
    "encoding": {"x": {"field": "t", "type": "quantitative"}, "y": {"field": "m", "type": "quantitative", "axis": null}}},
   {"data": {"values": [{}]}, "mark": {"type": "rule", "color": "#111", "strokeWidth": 1.2}, "encoding": {"x": {"datum": -84}, "x2": {"datum": -13}, "y": {"datum": 8.6, "axis": null}, "y2": {"datum": 8.15}}},
   {"data": {"values": [{}]}, "mark": {"type": "text", "text": "vocal", "align": "left", "baseline": "middle", "dx": -101.5, "dy": -17, "fontSize": 12.5, "color": "#e0282e"}, "encoding": {"x": {"datum": 0}, "y": {"datum": 8, "axis": null}}},
   {"data": {"values": [{}]}, "mark": {"type": "text", "text": "and", "align": "left", "baseline": "middle", "dx": -68.8, "dy": -17, "fontSize": 12.5, "color": "#333"}, "encoding": {"x": {"datum": 0}, "y": {"datum": 8, "axis": null}}},
   {"data": {"values": [{}]}, "mark": {"type": "text", "text": "auditory stimulation", "align": "left", "baseline": "middle", "dx": -44.5, "dy": -17, "fontSize": 12.5, "color": "#3030cc"}, "encoding": {"x": {"datum": 0}, "y": {"datum": 8, "axis": null}}},
   {"data": {"values": [{}]}, "mark": {"type": "text", "text": "onsets", "align": "left", "baseline": "middle", "dx": 66.8, "dy": -17, "fontSize": 12.5, "color": "#333"}, "encoding": {"x": {"datum": 0}, "y": {"datum": 8, "axis": null}}}
  ]
 },
 {
  "width": 91, "height": 135,
  "layer": [
   {"data": {"name": "b"}, "transform": [{"filter": "datum.p == 3 && datum.g == 'L'"}, {"flatten": ["t", "m", "u"]}],
    "mark": {"type": "errorband", "color": "#e0282e", "band": {"opacity": 0.25}, "interpolate": "monotone"},
    "encoding": {
     "x": {"field": "t", "type": "quantitative", "title": null, "scale": {"domain": [-285, 635], "nice": false, "zero": false}},
     "y": {"field": "m", "type": "quantitative", "title": "norm. spike activity", "scale": {"domain": [-1.5, 8], "nice": false, "zero": false}},
     "yError": {"field": "u"}}},
   {"data": {"values": [{}]}, "mark": {"type": "rule", "color": "#333", "strokeWidth": 1}, "encoding": {"y": {"datum": 0}}},
   {"data": {"values": [{}]}, "mark": {"type": "rule", "color": "#555", "strokeWidth": 1.2}, "encoding": {"x": {"datum": 0}}},
   {"data": {"name": "b"}, "transform": [{"filter": "datum.p == 3 && datum.g == 'L'"}, {"flatten": ["t", "m"]}],
    "mark": {"type": "line", "color": "#e0282e", "strokeWidth": 1.3, "interpolate": "monotone"},
    "encoding": {"x": {"field": "t", "type": "quantitative", "axis": {"values": [0, 500], "format": "d", "labelOverlap": false}}, "y": {"field": "m", "type": "quantitative", "axis": {"tickCount": 5, "labelOverlap": false}}}},
   {"data": {"values": [{}]}, "mark": {"type": "rule", "color": "#1e9b57", "strokeWidth": 1.2}, "encoding": {"x": {"datum": -83}, "x2": {"datum": -12}, "y": {"datum": 8.7}, "y2": {"datum": 8.15}}},
   {"data": {"values": [{}]}, "mark": {"type": "text", "text": "cue onset", "align": "right", "baseline": "middle", "dx": -1, "dy": -17, "fontSize": 13, "color": "#1e9b57"}, "encoding": {"x": {"datum": 0}, "y": {"datum": 8}}},
   {"data": {"values": [{}]}, "mark": {"type": "text", "text": "n = 5", "align": "left", "baseline": "middle", "dx": 42, "dy": 11, "fontSize": 13, "color": "#222"}, "encoding": {"x": {"datum": 0}, "y": {"datum": 8}}},
   {"data": {"values": [{}]}, "mark": {"type": "text", "text": "preVoc+ Aud-", "align": "left", "baseline": "middle", "dx": 22, "dy": -41, "fontSize": 14.7, "color": "#333"}, "encoding": {"x": {"datum": -285}, "y": {"datum": 8}}},
   {"data": {"values": [{}]}, "mark": {"type": "text", "text": "//", "align": "center", "baseline": "middle", "dx": 1.5, "dy": -3.5, "fontSize": 12, "color": "#222"}, "encoding": {"x": {"datum": 635}, "y": {"datum": -1.5}}}
  ]
 },
 {
  "width": 162, "height": 135,
  "layer": [
   {"data": {"name": "b"}, "transform": [{"filter": "datum.p == 3 && datum.g == 'R' && datum.s == 'v'"}, {"flatten": ["t", "m", "u"]}],
    "mark": {"type": "errorband", "color": "#e0282e", "band": {"opacity": 0.25}, "interpolate": "monotone"},
    "encoding": {
     "x": {"field": "t", "type": "quantitative", "scale": {"domain": [-640, 1000], "nice": false, "zero": false}, "axis": {"values": [-500, 0, 500, 1000], "format": "d", "labelOverlap": false, "title": "time (ms)", "titleX": 26, "titleY": 20.6, "titleBaseline": "middle"}},
     "y": {"field": "m", "type": "quantitative", "scale": {"domain": [-1.5, 8], "nice": false, "zero": false}, "axis": null},
     "yError": {"field": "u"}}},
   {"data": {"name": "b"}, "transform": [{"filter": "datum.p == 3 && datum.g == 'R' && datum.s == 'a'"}, {"flatten": ["t", "m", "u"]}],
    "mark": {"type": "errorband", "color": "#2a2ad6", "band": {"opacity": 0.25}, "interpolate": "monotone"},
    "encoding": {"x": {"field": "t", "type": "quantitative"}, "y": {"field": "m", "type": "quantitative", "axis": null}, "yError": {"field": "u"}}},
   {"data": {"values": [{}]}, "mark": {"type": "rule", "color": "#333", "strokeWidth": 1}, "encoding": {"y": {"datum": 0, "axis": null}}},
   {"data": {"values": [{}]}, "mark": {"type": "rule", "color": "#555", "strokeWidth": 1.2}, "encoding": {"x": {"datum": 0}}},
   {"data": {"name": "b"}, "transform": [{"filter": "datum.p == 3 && datum.g == 'R' && datum.s == 'v'"}, {"flatten": ["t", "m"]}],
    "mark": {"type": "line", "color": "#e0282e", "strokeWidth": 1.3, "interpolate": "monotone"},
    "encoding": {"x": {"field": "t", "type": "quantitative"}, "y": {"field": "m", "type": "quantitative", "axis": null}}},
   {"data": {"name": "b"}, "transform": [{"filter": "datum.p == 3 && datum.g == 'R' && datum.s == 'a'"}, {"flatten": ["t", "m"]}],
    "mark": {"type": "line", "color": "#2a2ad6", "strokeWidth": 1.3, "interpolate": "monotone"},
    "encoding": {"x": {"field": "t", "type": "quantitative"}, "y": {"field": "m", "type": "quantitative", "axis": null}}},
   {"data": {"values": [{}]}, "mark": {"type": "rule", "color": "#111", "strokeWidth": 1.2}, "encoding": {"x": {"datum": -84}, "x2": {"datum": -13}, "y": {"datum": 8.7, "axis": null}, "y2": {"datum": 8.15}}},
   {"data": {"values": [{}]}, "mark": {"type": "text", "text": "vocal", "align": "left", "baseline": "middle", "dx": -100.3, "dy": -17, "fontSize": 12.5, "color": "#e0282e"}, "encoding": {"x": {"datum": 0}, "y": {"datum": 8, "axis": null}}},
   {"data": {"values": [{}]}, "mark": {"type": "text", "text": "and", "align": "left", "baseline": "middle", "dx": -67.6, "dy": -17, "fontSize": 12.5, "color": "#333"}, "encoding": {"x": {"datum": 0}, "y": {"datum": 8, "axis": null}}},
   {"data": {"values": [{}]}, "mark": {"type": "text", "text": "auditory stimulation", "align": "left", "baseline": "middle", "dx": -43.3, "dy": -17, "fontSize": 12.5, "color": "#3030cc"}, "encoding": {"x": {"datum": 0}, "y": {"datum": 8, "axis": null}}},
   {"data": {"values": [{}]}, "mark": {"type": "text", "text": "onsets", "align": "left", "baseline": "middle", "dx": 68, "dy": -17, "fontSize": 12.5, "color": "#333"}, "encoding": {"x": {"datum": 0}, "y": {"datum": 8, "axis": null}}}
  ]
 },
 {"width": 52, "height": 1, "data": {"values": [{}]}, "mark": {"type": "text", "text": ""}, "encoding": {}},
 {
  "width": 91, "height": 135,
  "layer": [
   {"data": {"name": "b"}, "transform": [{"filter": "datum.p == 4 && datum.g == 'L'"}, {"flatten": ["t", "m", "u"]}],
    "mark": {"type": "errorband", "color": "#e0282e", "band": {"opacity": 0.25}, "interpolate": "monotone"},
    "encoding": {
     "x": {"field": "t", "type": "quantitative", "title": null, "scale": {"domain": [-285, 635], "nice": false, "zero": false}},
     "y": {"field": "m", "type": "quantitative", "title": "norm. spike activity", "scale": {"domain": [-1.5, 8], "nice": false, "zero": false}},
     "yError": {"field": "u"}}},
   {"data": {"values": [{}]}, "mark": {"type": "rule", "color": "#333", "strokeWidth": 1}, "encoding": {"y": {"datum": 0}}},
   {"data": {"values": [{}]}, "mark": {"type": "rule", "color": "#555", "strokeWidth": 1.2}, "encoding": {"x": {"datum": 0}}},
   {"data": {"name": "b"}, "transform": [{"filter": "datum.p == 4 && datum.g == 'L'"}, {"flatten": ["t", "m"]}],
    "mark": {"type": "line", "color": "#e0282e", "strokeWidth": 1.3, "interpolate": "monotone"},
    "encoding": {"x": {"field": "t", "type": "quantitative", "axis": {"values": [0, 500], "format": "d", "labelOverlap": false}}, "y": {"field": "m", "type": "quantitative", "axis": {"tickCount": 5, "labelOverlap": false}}}},
   {"data": {"values": [{}]}, "mark": {"type": "rule", "color": "#1e9b57", "strokeWidth": 1.2}, "encoding": {"x": {"datum": -83}, "x2": {"datum": -12}, "y": {"datum": 8.7}, "y2": {"datum": 8.15}}},
   {"data": {"values": [{}]}, "mark": {"type": "text", "text": "cue onset", "align": "right", "baseline": "middle", "dx": -1, "dy": -17, "fontSize": 13, "color": "#1e9b57"}, "encoding": {"x": {"datum": 0}, "y": {"datum": 8}}},
   {"data": {"values": [{}]}, "mark": {"type": "text", "text": "n = 8", "align": "left", "baseline": "middle", "dx": 40, "dy": 10.5, "fontSize": 13, "color": "#222"}, "encoding": {"x": {"datum": 0}, "y": {"datum": 8}}},
   {"data": {"values": [{}]}, "mark": {"type": "text", "text": "periVoc+ Aud-", "align": "left", "baseline": "middle", "dx": 20, "dy": -41, "fontSize": 14.7, "color": "#333"}, "encoding": {"x": {"datum": -285}, "y": {"datum": 8}}},
   {"data": {"values": [{}]}, "mark": {"type": "text", "text": "//", "align": "center", "baseline": "middle", "dx": 1.5, "dy": -3.5, "fontSize": 12, "color": "#222"}, "encoding": {"x": {"datum": 635}, "y": {"datum": -1.5}}}
  ]
 },
 {
  "width": 162, "height": 135,
  "layer": [
   {"data": {"name": "b"}, "transform": [{"filter": "datum.p == 4 && datum.g == 'R' && datum.s == 'v'"}, {"flatten": ["t", "m", "u"]}],
    "mark": {"type": "errorband", "color": "#e0282e", "band": {"opacity": 0.25}, "interpolate": "monotone"},
    "encoding": {
     "x": {"field": "t", "type": "quantitative", "scale": {"domain": [-640, 1000], "nice": false, "zero": false}, "axis": {"values": [-500, 0, 500, 1000], "format": "d", "labelOverlap": false, "title": "time (ms)", "titleX": 26, "titleY": 20.6, "titleBaseline": "middle"}},
     "y": {"field": "m", "type": "quantitative", "scale": {"domain": [-1.5, 8], "nice": false, "zero": false}, "axis": null},
     "yError": {"field": "u"}}},
   {"data": {"name": "b"}, "transform": [{"filter": "datum.p == 4 && datum.g == 'R' && datum.s == 'a'"}, {"flatten": ["t", "m", "u"]}],
    "mark": {"type": "errorband", "color": "#2a2ad6", "band": {"opacity": 0.25}, "interpolate": "monotone"},
    "encoding": {"x": {"field": "t", "type": "quantitative"}, "y": {"field": "m", "type": "quantitative", "axis": null}, "yError": {"field": "u"}}},
   {"data": {"values": [{}]}, "mark": {"type": "rule", "color": "#333", "strokeWidth": 1}, "encoding": {"y": {"datum": 0, "axis": null}}},
   {"data": {"values": [{}]}, "mark": {"type": "rule", "color": "#555", "strokeWidth": 1.2}, "encoding": {"x": {"datum": 0}}},
   {"data": {"name": "b"}, "transform": [{"filter": "datum.p == 4 && datum.g == 'R' && datum.s == 'v'"}, {"flatten": ["t", "m"]}],
    "mark": {"type": "line", "color": "#e0282e", "strokeWidth": 1.3, "interpolate": "monotone"},
    "encoding": {"x": {"field": "t", "type": "quantitative"}, "y": {"field": "m", "type": "quantitative", "axis": null}}},
   {"data": {"name": "b"}, "transform": [{"filter": "datum.p == 4 && datum.g == 'R' && datum.s == 'a'"}, {"flatten": ["t", "m"]}],
    "mark": {"type": "line", "color": "#2a2ad6", "strokeWidth": 1.3, "interpolate": "monotone"},
    "encoding": {"x": {"field": "t", "type": "quantitative"}, "y": {"field": "m", "type": "quantitative", "axis": null}}},
   {"data": {"values": [{}]}, "mark": {"type": "rule", "color": "#111", "strokeWidth": 1.2}, "encoding": {"x": {"datum": -84}, "x2": {"datum": -13}, "y": {"datum": 8.7, "axis": null}, "y2": {"datum": 8.15}}},
   {"data": {"values": [{}]}, "mark": {"type": "text", "text": "vocal", "align": "left", "baseline": "middle", "dx": -101.5, "dy": -17, "fontSize": 12.5, "color": "#e0282e"}, "encoding": {"x": {"datum": 0}, "y": {"datum": 8, "axis": null}}},
   {"data": {"values": [{}]}, "mark": {"type": "text", "text": "and", "align": "left", "baseline": "middle", "dx": -68.8, "dy": -17, "fontSize": 12.5, "color": "#333"}, "encoding": {"x": {"datum": 0}, "y": {"datum": 8, "axis": null}}},
   {"data": {"values": [{}]}, "mark": {"type": "text", "text": "auditory stimulation", "align": "left", "baseline": "middle", "dx": -44.5, "dy": -17, "fontSize": 12.5, "color": "#3030cc"}, "encoding": {"x": {"datum": 0}, "y": {"datum": 8, "axis": null}}},
   {"data": {"values": [{}]}, "mark": {"type": "text", "text": "onsets", "align": "left", "baseline": "middle", "dx": 66.8, "dy": -17, "fontSize": 12.5, "color": "#333"}, "encoding": {"x": {"datum": 0}, "y": {"datum": 8, "axis": null}}}
  ]
 }
]
}
